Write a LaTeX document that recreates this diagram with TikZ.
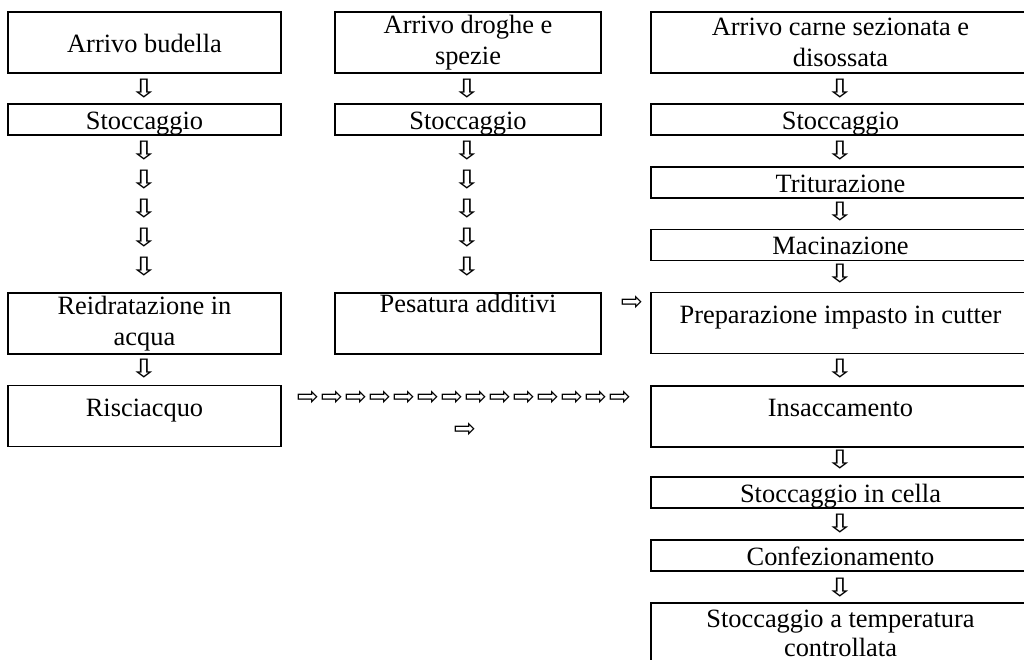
\documentclass[tikz,border=0pt]{standalone}
\usepackage{fontspec}
\setmainfont{Liberation Serif}
\newfontfamily\arrowfont{DejaVu Sans}
\usetikzlibrary{positioning}

\tikzset{
  box/.style={draw, line width=0.5pt, inner sep=0pt, align=center,
    font=\fontsize{12}{14}\selectfont},
  colA/.style={minimum width=124.1pt},
  colB/.style={minimum width=120.9pt},
  colC/.style={minimum width=172.3pt},
  tall/.style={minimum height=27.7pt},
  short/.style={minimum height=14.1pt},
  lowtext/.style={text height=10pt, text depth=1pt},
  midtext/.style={text height=5pt, text depth=5pt},
  dn/.style={inner sep=0pt, xscale=1.35, transform shape, font=\arrowfont\fontsize{11.5}{11.5}\selectfont},
  rt/.style={inner sep=0pt, font=\arrowfont\fontsize{12}{12}\selectfont},
}

\begin{document}
\begin{tikzpicture}[x=0.4545pt, y=-0.4545pt]
\useasboundingbox (0,0) rectangle (1024,659);
% budella
\node[box, colA, tall, lowtext] (bud) at (144.5,42.5) {Arrivo budella};
\node[box, colA, short, lowtext] (stA) at (144.5,119.5) {Stoccaggio};
\node[box, colA, tall] (reid) at (144.5,323.5) {Reidratazione in\\acqua};
\node[box, colA, tall, midtext] (risc) at (144.5,416) {Risciacquo};
\node[dn] (dA0) at (144,89) {⇩};
\foreach \y [count=\i] in {151,180,209,238,267}
  \node[dn] (dA\i) at (144,\y) {⇩};
\node[dn] (dA6) at (144,369) {⇩};

% droghe e spezie
\node[box, colB, tall] (dro) at (468,42.5) {Arrivo droghe e\\spezie};
\node[box, colB, short, lowtext] (stB) at (468,119.5) {Stoccaggio};
\node[box, colB, tall, text height=9pt, text depth=18.7pt] (pes) at (468,323.5) {Pesatura additivi};
\node[dn] (dB0) at (467,89) {⇩};
\foreach \y [count=\i] in {151,180,209,238,267}
  \node[dn] (dB\i) at (467,\y) {⇩};

% verso il cutter
\node[rt] (rP) at (632,303) {⇨};
\foreach \i in {0,...,13}
  \node[rt] (rR\i) at (308+24*\i,398) {⇨};
\node[rt] (rR14) at (465,430) {⇨};

% carne
\node[box, colC, tall] (car) at (840.5,42.5) {Arrivo carne sezionata e\\disossata};
\node[box, colC, short, lowtext] (stC) at (840.5,119.5) {Stoccaggio};
\node[box, colC, short, lowtext] (trit) at (840.5,182.5) {Triturazione};
\node[box, colC, short, lowtext] (mac) at (840.5,245) {Macinazione};
\node[box, colC, tall, midtext] (prep) at (840.5,323) {Preparazione impasto in cutter};
\node[box, colC, tall, midtext] (ins) at (840.5,416.5) {Insaccamento};
\node[box, colC, short, lowtext] (cel) at (840.5,492.5) {Stoccaggio in cella};
\node[box, colC, short, lowtext] (conf) at (840.5,555.5) {Confezionamento};
\node[box, colC, tall, font=\fontsize{12}{13.2}\selectfont] (temp) at (840.5,633.5) {Stoccaggio a temperatura\\controllata};
\foreach \y [count=\i] in {89,151,212,274,369,460,524,588}
  \node[dn] (dC\i) at (840,\y) {⇩};
\end{tikzpicture}
\end{document}
